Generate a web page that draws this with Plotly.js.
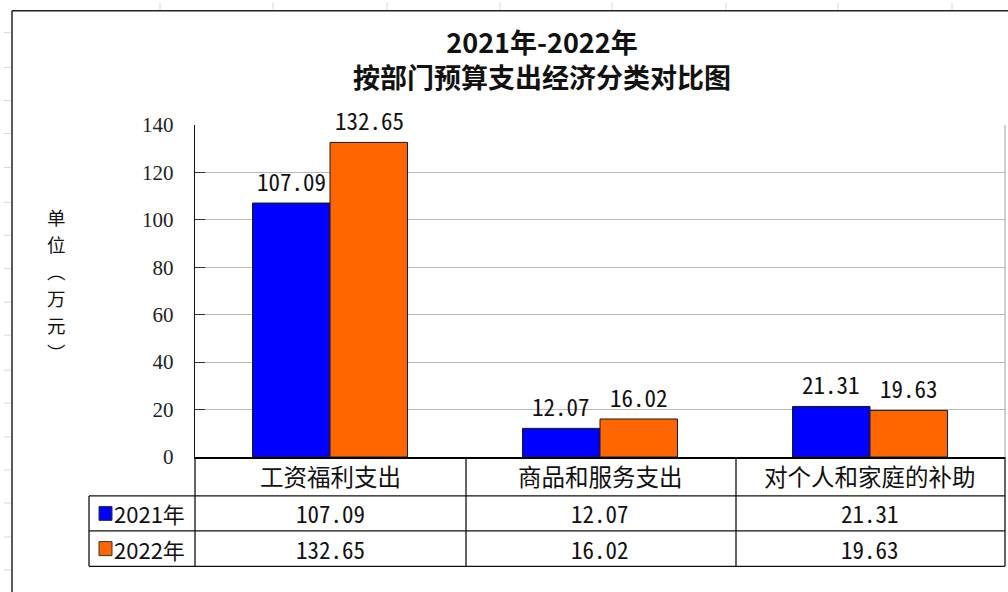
<!DOCTYPE html>
<html>
<head>
<meta charset="utf-8">
<script src="https://cdn.plot.ly/plotly-3.0.1.min.js"></script>
<style>
html,body{margin:0;padding:0;background:#fff;}
#chart{width:1008px;height:592px;}
</style>
</head>
<body>
<div id="chart"></div>
<script>
// ---- data ----
var categories = ['工资福利支出', '商品和服务支出', '对个人和家庭的补助'];
var seriesNames = ['2021年', '2022年'];
var values2021 = [107.09, 12.07, 21.31];
var values2022 = [132.65, 16.02, 19.63];
var yTicks = [0, 20, 40, 60, 80, 100, 120, 140];
var titleLines = ['2021年-2022年', '按部门预算支出经济分类对比图'];
var yTitleChars = ['单', '位', '︵', '万', '元', '︶'];

// ---- layout geometry (pixels) ----
var W = 1008, H = 592;
var L = 195, R = 1005, T = 124.5, B = 457;
function px(x) { return (x - L) / (R - L); }
function py(y) { return (B - y) / (B - T); }

var colors = ['#0000FF', '#FF6600'];
var seriesValues = [values2021, values2022];

var traces = seriesNames.map(function (name, i) {
  return {
    type: 'bar',
    name: name,
    x: categories,
    y: seriesValues[i],
    marker: { color: colors[i], line: { color: '#1a1a1a', width: 1 } },
    hoverinfo: 'x+y+name'
  };
});

var annotations = [];
var shapes = [];

// title (two lines in one text block)
annotations.push({
  xref: 'paper', yref: 'paper', x: px(542), y: py(58),
  text: titleLines.join('<br>'), showarrow: false, xanchor: 'center', yanchor: 'middle',
  font: { family: 'Noto Sans CJK SC, serif', size: 27, color: '#111', weight: 'bold' }
});

// bar value labels
var monoFamily = 'Noto Sans Mono CJK SC, Liberation Mono, monospace';
var monoSize = 23;
seriesValues.forEach(function (vals, i) {
  vals.forEach(function (v, j) {
    annotations.push({
      x: categories[j], y: v, xref: 'x', yref: 'y',
      text: v.toFixed(2), showarrow: false,
      xanchor: 'center', xshift: (i === 0 ? -39 : 39), yanchor: 'bottom', yshift: 3,
      font: { family: monoFamily, size: monoSize, color: '#111' }
    });
  });
});

// y-axis title, stacked vertical characters (one per annotation)
var yTitleStep = 27, yTitleMid = 284;
yTitleChars.forEach(function (ch, k) {
  annotations.push({
    xref: 'paper', yref: 'paper', x: px(56),
    y: py(yTitleMid + (k - (yTitleChars.length - 1) / 2) * yTitleStep),
    text: ch, showarrow: false, borderpad: 0,
    xanchor: 'center', yanchor: 'middle',
    font: { family: 'Noto Sans CJK SC, sans-serif', size: 18.5, color: '#111' }
  });
});

// data table
var rowTop = 457, row1 = 496, row2 = 531, row3 = 566.5;
var cjkFont = { family: 'Noto Sans CJK SC, sans-serif', size: 23.5, color: '#111' };
categories.forEach(function (c, j) {
  annotations.push({
    x: c, xref: 'x', yref: 'paper', y: py((rowTop + row1) / 2),
    text: c, showarrow: false, xanchor: 'center', yanchor: 'middle', font: cjkFont
  });
  seriesValues.forEach(function (vals, i) {
    var mid = i === 0 ? (row1 + row2) / 2 : (row2 + row3) / 2;
    annotations.push({
      x: c, xref: 'x', yref: 'paper', y: py(mid),
      text: vals[j].toFixed(2), showarrow: false, xanchor: 'center', yanchor: 'middle',
      font: { family: monoFamily, size: monoSize, color: '#111' }
    });
  });
});
seriesNames.forEach(function (n, i) {
  var mid = i === 0 ? (row1 + row2) / 2 : (row2 + row3) / 2;
  annotations.push({
    xref: 'paper', yref: 'paper', x: px(112), y: py(mid),
    text: n, showarrow: false, xanchor: 'left', yanchor: 'middle',
    font: { family: 'Noto Sans CJK SC, sans-serif', size: 22, color: '#111' }
  });
  shapes.push({
    type: 'rect', xref: 'paper', yref: 'paper',
    x0: px(99), x1: px(112), y0: py(mid - 7), y1: py(mid + 7),
    fillcolor: colors[i], line: { color: '#333', width: 1 }
  });
});

function hline(x0, x1, y, color, w) {
  shapes.push({ type: 'line', xref: 'paper', yref: 'paper', x0: px(x0), x1: px(x1), y0: py(y), y1: py(y), line: { color: color, width: w } });
}
function vline(x, y0, y1, color, w) {
  shapes.push({ type: 'line', xref: 'paper', yref: 'paper', x0: px(x), x1: px(x), y0: py(y0), y1: py(y1), line: { color: color, width: w } });
}
// table grid
hline(195, 1005, row1, '#111', 1.3);
hline(89, 1005, row2, '#111', 1.3);
hline(89, 1005, row3, '#111', 1.3);
hline(89, 195, row1, '#111', 1.3);
[195, 466, 736, 1005].forEach(function (x) { vline(x, rowTop, row3, '#111', 1.3); });
vline(89, row1, row3, '#111', 1.3);
// plot border right (gray)
vline(1005, T, B, '#a0a0a0', 1);
// outer frame
vline(12, 10, H + 5, '#222', 1.5);
hline(12, W + 5, 10, '#222', 1.5);
// faint sheet gridline marks
[160, 273, 387, 500, 612, 726, 838, 952].forEach(function (x) { vline(x, 2, 9, '#d8d8d8', 1); });
[32, 67, 100, 133, 167, 202, 235, 268, 302, 335, 370, 403, 437, 470, 503, 537, 570].forEach(function (y) { hline(4, 11, y, '#d8d8d8', 1); });

var layout = {
  width: W, height: H,
  paper_bgcolor: '#ffffff', plot_bgcolor: '#ffffff',
  margin: { l: L, r: W - R, t: T, b: H - B, pad: 0 },
  showlegend: false,
  barmode: 'group',
  bargap: 0.426, bargroupgap: 0,
  xaxis: {
    type: 'category',
    showticklabels: false, ticks: '',
    showline: true, linecolor: '#000', linewidth: 2,
    showgrid: false, zeroline: false,
    fixedrange: true
  },
  yaxis: {
    range: [0, 140], tickvals: yTicks,
    showgrid: true, gridcolor: '#b8b8b8', gridwidth: 1,
    showline: true, linecolor: '#111', linewidth: 1.3,
    ticks: 'inside', ticklen: 10, tickcolor: '#333', tickwidth: 1,
    ticklabelstandoff: 16,
    tickfont: { family: 'Liberation Serif, DejaVu Serif, serif', size: 21, color: '#222' },
    zeroline: false, fixedrange: true
  },
  annotations: annotations,
  shapes: shapes
};

Plotly.newPlot('chart', traces, layout, { displayModeBar: false, staticPlot: true });
</script>
</body>
</html>
